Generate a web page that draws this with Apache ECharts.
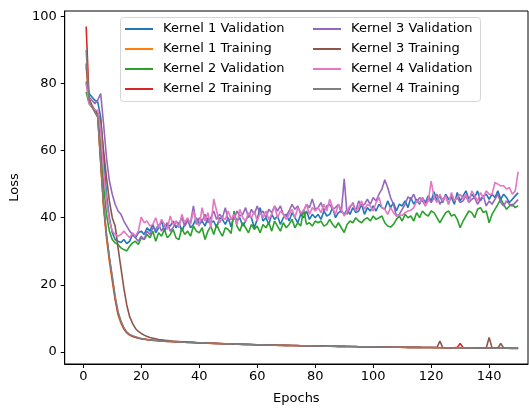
<!DOCTYPE html>
<html>
<head>
<meta charset="utf-8">
<script src="https://cdn.jsdelivr.net/npm/echarts@6/dist/echarts.min.js"></script>
<style>
html,body{margin:0;padding:0;background:#fff;}
#chart{width:529px;height:410px;}
</style>
</head>
<body>
<div id="chart"></div>
<script>
var seriesNames = ["Kernel 1 Validation","Kernel 1 Training","Kernel 2 Validation","Kernel 2 Training",
                   "Kernel 3 Validation","Kernel 3 Training","Kernel 4 Validation","Kernel 4 Training"];
var seriesColors = ["#1f77b4","#ff7f0e","#2ca02c","#d62728","#9467bd","#8c564b","#e377c2","#7f7f7f"];
var xTicks = [0,20,40,60,80,100,120,140];
var yTicks = [0,20,40,60,80,100];

var k1Val = [
80.6,77,76,75,74.5,70,58,47,40,35.5,
33.5,33,32.6,33.5,32.3,33,35,34,35.5,36,
35,37,36,38,35.5,37,39,36,38,37.5,
39,37,38.5,36,38,39.5,37,38,40,38,
39,37.5,40,38.5,39,37,40,39.5,38,40,
37.2,41,39,40,37.5,39,41,40,37,39.5,
43,39,40,38,41,39.5,40.5,38,40,41,
39,41.5,40,38.5,41,40,42,39.5,41,40,
41,39.5,42,40.5,41,43,40,41.5,42,41,
42.5,41,43,41.5,42,44,41,43,42,43.5,
42,44,43,42.5,45,43,44.5,42,44,43.5,
45,43,46,44,45.5,44,46,44.5,46.5,45,
47.7,45,46.5,44.5,47,45.5,46,44,47.5,45,
46.5,48,45.5,47,46,48,45,46.5,47,45.5,
47,46,48,45.5,47,46,44.5,45.5,46.5,47.4];

var k1Train = [
85,75,73,71.5,70,56,43,34,27,21,
15.5,11,8.5,6.8,5.6,5,4.6,4.3,4.1,3.9,
3.8,3.65,3.55,3.45,3.4,3.3,3.25,3.2,3.15,3.1,
3.05,3.0,2.95,2.9,2.9,2.85,2.8,2.75,2.7,2.7,
2.65,2.6,2.6,2.55,2.5,2.5,2.45,2.4,2.4,2.35,
2.3,2.3,2.3,2.25,2.2,2.2,2.2,2.15,2.1,2.1,
2.1,2.05,2.05,2.0,2.0,2.0,1.95,1.95,1.9,1.9,
1.9,1.9,1.85,1.85,1.85,1.8,1.8,1.8,1.75,1.75,
1.75,1.7,1.7,1.7,1.7,1.65,1.65,1.65,1.6,1.6,
1.6,1.6,1.55,1.55,1.55,1.5,1.5,1.5,1.5,1.5,
1.45,1.45,1.45,1.45,1.4,1.4,1.4,1.4,1.4,1.35,
1.35,1.35,1.35,1.35,1.3,1.3,1.3,1.3,1.3,1.3,
1.25,1.25,1.25,1.25,1.25,1.25,1.2,1.2,1.2,1.2,
1.2,1.2,1.2,1.15,1.15,1.15,1.15,1.15,1.15,1.1,
1.1,1.1,1.1,1.1,1.1,1.1,1.05,1.05,1.05,1.05];

var k2Val = [
77.5,74,73,72,70,62,50,41,36,33.5,
32.5,32,31,30.5,30.1,31.5,32.5,33,32,34,
33.5,35,34,36,33,35.5,34.5,36.5,34,35,
36.5,34,33.5,37,35,36,34.5,37.5,36,35.5,
37,33.5,36,37.5,35,38,36,34.5,37,36.5,
35.3,42,37.5,36,38.5,37,35.5,38,36.5,37.5,
35.5,38,37,38.5,36,39,37.5,36,38.5,37,
38,39.5,37,38.5,37.5,42.5,38,38.5,37.5,39,
38.5,39,37.5,38,39.5,38,37,38.5,37,35.6,
38,39,38.5,40,39,38.5,39.5,40,39,40.5,
39.5,40,40.5,38.5,37.5,37.2,38,39.5,40.5,39,
41,40,40.5,39,41.5,40,42,41,40.5,42,
41.5,40,38.5,40,41.5,42,40.5,41,39.5,37,
39,40.5,42,41.5,40,42.5,43,41.5,42,38.5,
41,42.5,44,45.6,44,42.5,43.5,44,43,43.6];

var k2Train = [
97,75.5,73.5,72,70.5,57,44,35,28,22,
16,11.5,9,7,5.8,5.1,4.7,4.4,4.15,3.95,
3.8,3.7,3.6,3.5,3.4,3.35,3.3,3.2,3.15,3.1,
3.05,3.05,2.95,2.95,2.9,2.85,2.85,2.8,2.75,2.7,
2.7,2.65,2.6,2.6,2.55,2.5,2.5,2.45,2.45,2.4,
2.35,2.35,2.3,2.3,2.25,2.25,2.2,2.2,2.15,2.15,
2.1,2.1,2.1,2.05,2.05,2.0,2.0,2.0,1.95,1.95,
1.9,1.9,1.9,1.9,1.85,1.85,1.85,1.8,1.8,1.8,
1.75,1.75,1.75,1.7,1.7,1.7,1.7,1.65,1.65,1.65,
1.6,1.6,1.6,1.6,1.55,1.55,1.55,1.55,1.5,1.5,
1.5,1.5,1.45,1.45,1.45,1.45,1.4,1.4,1.4,1.4,
1.4,1.35,1.35,1.35,1.35,1.35,1.3,1.3,1.3,1.3,
1.3,1.3,1.25,1.25,1.25,1.25,1.25,1.25,1.35,2.5,
1.3,1.2,1.2,1.2,1.2,1.2,1.2,1.15,1.15,1.15,
1.15,1.15,1.15,1.1,1.1,1.1,1.1,1.1,1.1,1.1];

var k3Val = [
80,76,75,74,75,77,68,58,51,47,
44,42,41,39,37.5,36,35,34,33,34.5,
33.5,36,35,37,36.5,38,36,37.5,38.5,36,
37,39,38,40,37.5,39,38.5,43.5,38,40,
39,41,38.5,40,42,39.5,41,40,43,39,
39.7,39.5,42,40.5,41,43,40,42.5,41,43.5,
41,42,40,42.5,41.5,43.5,42,43.5,41,40.5,
42,44,42.5,43.5,41,42,44,43,45.6,42.5,
43,44.5,42,43.5,44,42.5,43,44,41.5,51.6,
41,43,44.5,42,45,43.5,44,45.5,44,46,
45,47,48.5,51.3,49,46,44,40.5,41,42.5,
44,46.2,45.5,47,44.5,46,45,43.5,46,44.5,
46,47,44,45.5,46.5,44,47,45,46,44.5,
45,46.5,44.5,45.5,46,44,45.5,46.5,43.5,45,
44,45.5,47,44.5,43.5,45,44,43.5,44.5,45.4];

var k3Train = [
86,75,73,72,71,69,60,52,45,40,
37.5,31,25,19,14,10.5,8.5,7,6.1,5.5,
5,4.6,4.3,4.1,3.9,3.7,3.6,3.5,3.4,3.3,
3.2,3.15,3.1,3.05,3.0,2.95,2.9,2.85,2.8,2.75,
2.7,2.7,2.65,2.6,2.6,2.55,2.5,2.5,2.45,2.4,
2.4,2.35,2.35,2.3,2.3,2.25,2.25,2.2,2.2,2.15,
2.15,2.1,2.1,2.05,2.05,2.05,2.0,2.0,2.0,1.95,
1.95,1.9,1.9,1.9,1.85,1.85,1.85,1.8,1.8,1.8,
1.75,1.75,1.75,1.7,1.7,1.7,1.7,1.65,1.65,1.65,
1.6,1.6,1.6,1.6,1.55,1.55,1.55,1.55,1.5,1.5,
1.5,1.5,1.45,1.45,1.45,1.45,1.4,1.4,1.4,1.4,
1.4,1.35,1.35,1.35,1.35,1.35,1.3,1.3,1.3,1.3,
1.3,1.3,3.2,1.3,1.25,1.25,1.25,1.25,1.25,1.25,
1.2,1.2,1.2,1.2,1.2,1.2,1.2,1.2,1.25,4.3,
1.2,1.15,1.15,2.5,1.2,1.1,1.1,1.1,1.1,1.1];

var k4Val = [
80,74,73,72,72,66,54,45,39,36,
35,34.5,35,36,35,34,35.5,34.5,36,40.2,
38.5,39,37.5,38,40,37,39.5,38,36.5,40.5,
38,39,37,41,38.5,40,38,42,39,37.5,
43,39,41.5,37,45.6,42,38.5,40,39.5,42,
39.5,41,38,42.5,40,39,41.5,40,42,39,
41.5,40,42,39.5,41,43.5,40,42,41,39.5,
41,42.5,40,43,41.5,42,44,41,43,42,
43,41.5,44,42,45.5,43,41,44,42.5,40.5,
42,43.5,44,42,43,45,42.5,44,43.5,42,
44.5,46,43,42.5,41,43,41.5,40.5,40.8,40.7,
41.5,42,42.2,43,45,44.5,46,43.5,45,50.9,
46,44.5,47,45,46.5,44,47.5,45,46,47,
45.5,47,44.5,48,46.5,45,47.5,46,48,47,
47,50.5,50,49.5,49.5,48.5,49,47,48,53.7];

var k4Train = [
90,75,73,71.5,70,57,44,35,28,22.5,
16.5,12,9.2,7.2,5.9,5.2,4.8,4.5,4.2,4.0,
3.85,3.7,3.6,3.5,3.45,3.4,3.3,3.25,3.2,3.15,
3.1,3.05,3.0,2.95,2.9,2.9,2.85,2.8,2.75,2.75,
2.7,2.65,2.6,2.6,2.55,2.5,2.5,2.45,2.4,2.4,
2.35,2.35,2.3,2.3,2.25,2.25,2.2,2.2,2.15,2.15,
2.1,2.1,2.05,2.05,2.05,2.0,2.0,1.95,1.95,1.95,
1.9,1.9,1.9,1.85,1.85,1.85,1.8,1.8,1.8,1.75,
1.75,1.75,1.7,1.7,1.7,1.7,1.65,1.65,1.65,1.6,
1.6,1.6,1.6,1.55,1.55,1.55,1.55,1.5,1.5,1.5,
1.5,1.45,1.45,1.45,1.45,1.4,1.4,1.4,1.4,1.4,
1.35,1.35,1.35,1.35,1.35,1.3,1.3,1.3,1.3,1.3,
1.3,1.25,1.25,1.25,1.25,1.25,1.25,1.2,1.2,1.2,
1.2,1.2,1.2,1.2,1.15,1.15,1.15,1.15,1.15,1.15,
1.1,1.1,1.1,1.1,1.1,1.1,1.1,1.05,1.05,1.05];

var allSeries = [k1Val,k1Train,k2Val,k2Train,k3Val,k3Train,k4Val,k4Train];

var FONT = "DejaVu Sans";
var chart = echarts.init(document.getElementById('chart'), null, {renderer:'canvas'});

var series = allSeries.map(function(vals, s){
  return {
    name: seriesNames[s],
    type: 'line',
    data: vals.map(function(v, i){ return [i + 1, v]; }),
    showSymbol: false,
    symbol: 'none',
    lineStyle: {width: 1.6, color: seriesColors[s]},
    itemStyle: {color: seriesColors[s]},
    emphasis: {disabled: true},
    z: 2
  };
});

function legendFor(names, left){
  return {
    orient: 'vertical',
    left: left, top: 22,
    padding: 0,
    itemWidth: 28, itemHeight: 2, itemGap: 6,
    icon: 'rect',
    data: names,
    selectedMode: false,
    textStyle: {fontFamily: FONT, fontSize: 13, color: '#000', lineHeight: 14, padding: [0,0,0,5]},
    z: 6
  };
}

var option = {
  animation: false,
  backgroundColor: '#fff',
  grid: {left: 62, right: 1, top: 11, bottom: 44, show: true, borderColor: '#000', borderWidth: 1, containLabel: false},
  xAxis: {
    type: 'value', min: -6.4, max: 153.4,
    name: 'Epochs', nameLocation: 'middle', nameGap: 28,
    nameTextStyle: {fontFamily: FONT, fontSize: 13, color: '#000'},
    axisLine: {show: true, onZero: false, lineStyle: {color: '#000', width: 1}},
    axisTick: {show: true, inside: false, length: 4, customValues: xTicks, lineStyle: {color: '#000'}},
    axisLabel: {fontFamily: FONT, fontSize: 13, color: '#000', margin: 6, customValues: xTicks},
    splitLine: {show: false}
  },
  yAxis: {
    type: 'value', min: -3.6, max: 101.6,
    name: 'Loss', nameLocation: 'middle', nameGap: 36,
    nameTextStyle: {fontFamily: FONT, fontSize: 13, color: '#000'},
    axisLine: {show: true, onZero: false, lineStyle: {color: '#000', width: 1}},
    axisTick: {show: true, inside: false, length: 4, customValues: yTicks, lineStyle: {color: '#000'}},
    axisLabel: {fontFamily: FONT, fontSize: 13, color: '#000', margin: 8, customValues: yTicks},
    splitLine: {show: false}
  },
  legend: [legendFor(seriesNames.filter(function(n,i){return i<4;}), 125),
           legendFor(seriesNames.filter(function(n,i){return i>=4;}), 313)],
  graphic: [{
    type: 'rect', z: 5,
    shape: {x: 120.5, y: 17.5, width: 360, height: 84, r: 3},
    style: {fill: 'rgba(255,255,255,0.8)', stroke: '#d6d6d6', lineWidth: 1}
  }],
  series: series
};
chart.setOption(option);
</script>
</body>
</html>
